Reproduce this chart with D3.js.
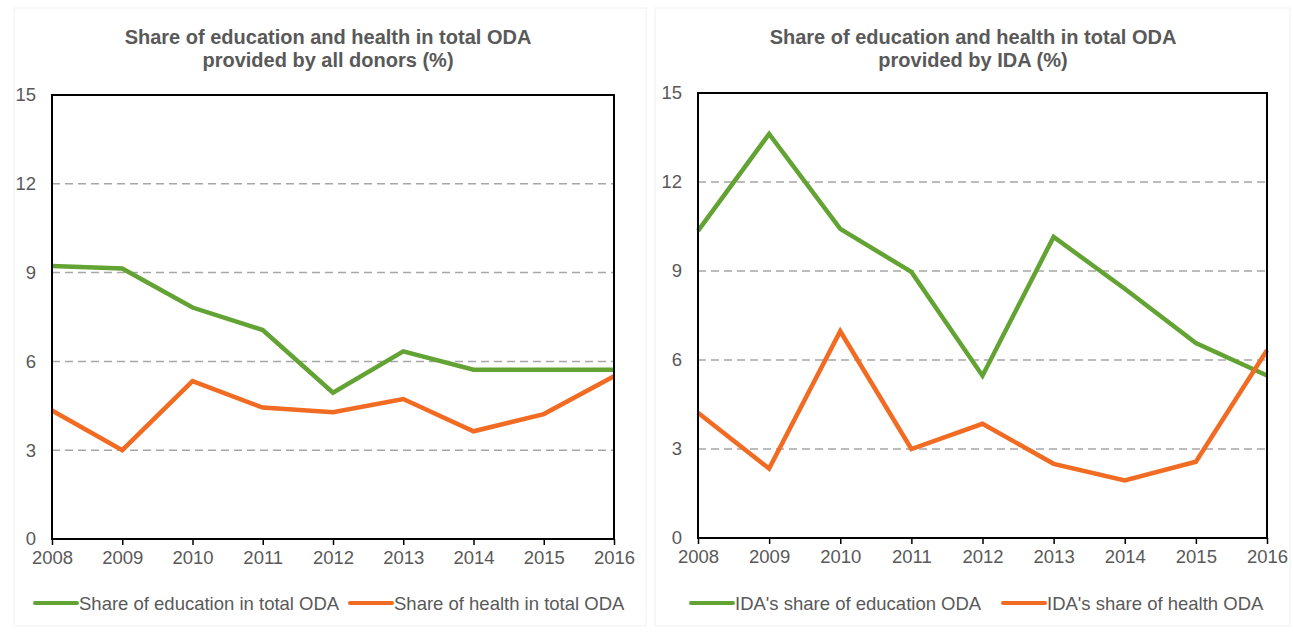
<!DOCTYPE html>
<html>
<head>
  <meta charset="utf-8">
  <script src="https://d3js.org/d3.v7.min.js"></script>
  <style>
    body { margin: 0; background: #fff; }
    svg { font-family: Arial, "Liberation Sans", sans-serif; }
  </style>
</head>
<body>
<script>
  "use strict";

  // data
  var years = [2008, 2009, 2010, 2011, 2012, 2013, 2014, 2015, 2016];
  var yTicks = [0, 3, 6, 9, 12, 15];

  var allEducation = [9.22, 9.14, 7.82, 7.06, 4.94, 6.34, 5.72, 5.72, 5.72];
  var allHealth = [4.34, 3.0, 5.33, 4.44, 4.28, 4.73, 3.64, 4.22, 5.5];

  var idaEducation = [10.35, 13.62, 10.42, 8.97, 5.47, 10.15, 8.4, 6.57, 5.48];
  var idaHealth = [4.22, 2.34, 6.97, 3.0, 3.85, 2.5, 1.94, 2.57, 6.33];

  var green = "#62a333", orange = "#f26b22", textCol = "#595959";

  var svg = d3.select("body").append("svg")
    .attr("width", 1293)
    .attr("height", 633);

  var panels = [
    {
      title: ["Share of education and health in total ODA", "provided by all donors (%)"],
      titleX: 328,
      box: [14, 8, 646, 626],
      plot: { left: 52, right: 614, top: 95, bottom: 539 },
      series: [
        { name: "Share of education in total ODA", values: allEducation, color: green },
        { name: "Share of health in total ODA", values: allHealth, color: orange }
      ],
      legendX: [35, 350]
    },
    {
      title: ["Share of education and health in total ODA", "provided by IDA (%)"],
      titleX: 973,
      box: [655, 8, 1290, 626],
      plot: { left: 698, right: 1267, top: 93, bottom: 538 },
      series: [
        { name: "IDA's share of education ODA", values: idaEducation, color: green },
        { name: "IDA's share of health ODA", values: idaHealth, color: orange }
      ],
      legendX: [691, 1003]
    }
  ];

  panels.forEach(function (p) {
    var g = svg.append("g");

    // faint panel frame
    g.append("rect")
      .attr("x", p.box[0]).attr("y", p.box[1])
      .attr("width", p.box[2] - p.box[0]).attr("height", p.box[3] - p.box[1])
      .attr("fill", "none").attr("stroke", "#f0f0f0");

    // title
    g.selectAll(".title")
      .data(p.title)
      .enter().append("text")
        .attr("x", p.titleX)
        .attr("y", function (d, i) { return 44 + i * 23; })
        .attr("text-anchor", "middle")
        .attr("fill", textCol)
        .style("font-size", "20px")
        .style("font-weight", "bold")
        .text(function (d) { return d; });

    var x = d3.scaleLinear().domain([2008, 2016]).range([p.plot.left, p.plot.right]);
    var y = d3.scaleLinear().domain([0, 15]).range([p.plot.bottom, p.plot.top]);

    // dashed gridlines
    g.selectAll(".grid")
      .data(yTicks.filter(function (d) { return d > 0 && d < 15; }))
      .enter().append("line")
        .attr("x1", p.plot.left).attr("x2", p.plot.right)
        .attr("y1", function (d) { return y(d); })
        .attr("y2", function (d) { return y(d); })
        .attr("stroke", "#a6a6a6")
        .attr("stroke-width", 1.5)
        .attr("stroke-dasharray", "8,5");

    // y axis labels
    var yAxis = d3.axisLeft(y).tickValues(yTicks).tickSize(0).tickPadding(16);
    var ya = g.append("g")
      .attr("transform", "translate(" + p.plot.left + ",0)")
      .call(yAxis);
    ya.select(".domain").remove();
    ya.selectAll("text").attr("fill", textCol).style("font-size", "18.5px").attr("font-family", null);

    // x axis
    var xAxis = d3.axisBottom(x).tickValues(years).tickFormat(d3.format("d")).tickSize(6).tickPadding(6);
    var xa = g.append("g")
      .attr("transform", "translate(0," + p.plot.bottom + ")")
      .call(xAxis);
    xa.select(".domain").remove();
    xa.selectAll("line").attr("stroke", "#000").attr("stroke-width", 1.5);
    xa.selectAll("text").attr("fill", textCol).style("font-size", "18.5px").attr("font-family", null);

    // lines
    var line = d3.line()
      .x(function (d, i) { return x(years[i]); })
      .y(function (d) { return y(d); });

    p.series.forEach(function (s) {
      g.append("path")
        .datum(s.values)
        .attr("d", line)
        .attr("fill", "none")
        .attr("stroke", s.color)
        .attr("stroke-width", 4.5)
        .attr("stroke-linejoin", "miter");
    });

    // plot frame
    g.append("rect")
      .attr("x", p.plot.left).attr("y", p.plot.top)
      .attr("width", p.plot.right - p.plot.left)
      .attr("height", p.plot.bottom - p.plot.top)
      .attr("fill", "none")
      .attr("stroke", "#000")
      .attr("stroke-width", 2);

    // legend
    p.series.forEach(function (s, i) {
      var lx = p.legendX[i];
      g.append("line")
        .attr("x1", lx).attr("x2", lx + 42)
        .attr("y1", 603).attr("y2", 603)
        .attr("stroke", s.color)
        .attr("stroke-width", 4)
        .attr("stroke-linecap", "round");
      g.append("text")
        .attr("x", lx + 44)
        .attr("y", 610)
        .attr("fill", textCol)
        .style("font-size", "18.5px")
        .text(s.name);
    });
  });
</script>
</body>
</html>
